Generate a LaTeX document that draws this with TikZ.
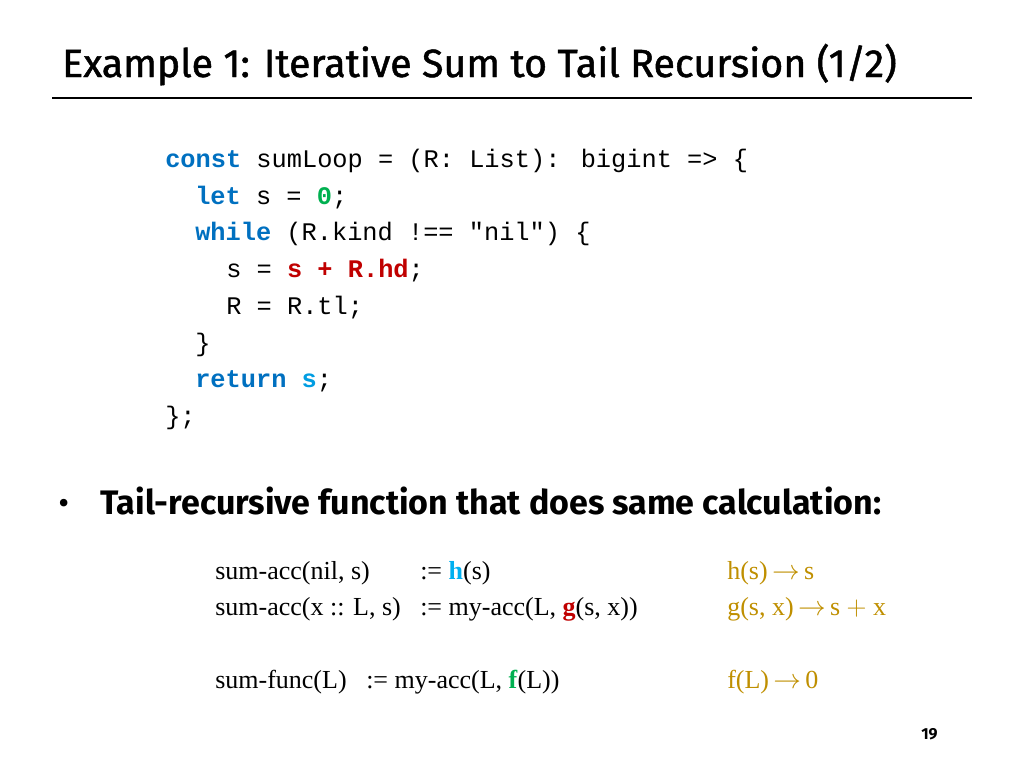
\documentclass[tikz,border=0pt]{standalone}
\usepackage{fontspec}
\setmainfont{Liberation Serif}
\newfontfamily\ttl[FakeBold=1.2]{Fira Sans}
\newfontfamily\bul[FakeStretch=1.0]{Fira Sans}
\newfontfamily\code{Liberation Mono}
\definecolor{kw}{HTML}{0070C0}
\definecolor{gr}{HTML}{00B050}
\definecolor{rd}{HTML}{C00000}
\definecolor{cy}{HTML}{00B0F0}
\definecolor{gd}{HTML}{BF8F00}
\newcommand{\arr}{\,$\rightarrow$\,}
\tikzset{t/.style={anchor=base west,inner sep=0pt},
 c/.style={t,font=\code\fontsize{19}{19}\selectfont},
 m/.style={t,font=\fontsize{19.5}{19.5}\selectfont}}
\begin{document}
\begin{tikzpicture}[x=0.75pt,y=-0.75pt]
\useasboundingbox (0,0) rectangle (1024,768);
\node[t,font=\ttl\fontsize{29.5}{29.5}\selectfont] (title) at (62,77) {Example 1: Iterative Sum to Tail Recursion (1/2)};
\draw[line width=2.2pt] (52,98) -- (972,98);
\node[c] (c1) at (165,167) {\textcolor{kw}{\textbf{const}} sumLoop = (R: List): bigint => \{};
\node[c] (c2) at (195,204) {\textcolor{kw}{\textbf{let}} s = \textcolor{gr}{\textbf{0}};};
\node[c] (c3) at (195,240) {\textcolor{kw}{\textbf{while}} (R.kind !== "nil") \{};
\node[c] (c4) at (226,277) {s = \textcolor{rd}{\textbf{s + R.hd}};};
\node[c] (c5) at (226,314) {R = R.tl;};
\node[c] (c6) at (195,351) {\}};
\node[c] (c7) at (195,387) {\textcolor{kw}{\textbf{return}} \textcolor{cy!70!kw}{\textbf{s}};};
\node[c] (c8) at (165,424) {\};};
\node[t,font=\bul\fontsize{25}{25}\selectfont] (b) at (58,514) {\textbullet};
\node[t,font=\bul\fontsize{25.5}{25.5}\selectfont\bfseries] (bt) at (100,514) {Tail-recursive function that does same calculation:};
\node[m] (a1) at (215,579) {sum-acc(nil, s)};
\node[m] (a2) at (420,579) {:= \textcolor{cy}{\textbf{h}}(s)};
\node[m,text=gd] (a3) at (727,579) {h(s)\arr s};
\node[m] (b1) at (215,615) {sum-acc(x :: L, s)};
\node[m] (b2) at (420,615) {:= my-acc(L, \textcolor{rd}{\textbf{g}}(s, x))};
\node[m,text=gd] (b3) at (727,615) {g(s, x)\arr s $+$ x};
\node[m] (d1) at (215,688) {sum-func(L)};
\node[m] (d2) at (366,688) {:= my-acc(L, \textcolor{gr}{\textbf{f}}(L))};
\node[m,text=gd] (d3) at (727,688) {f(L)\arr 0};
\node[t,font=\bul\fontsize{12}{12}\selectfont\bfseries] (pg) at (921,739) {19};
\end{tikzpicture}
\end{document}
